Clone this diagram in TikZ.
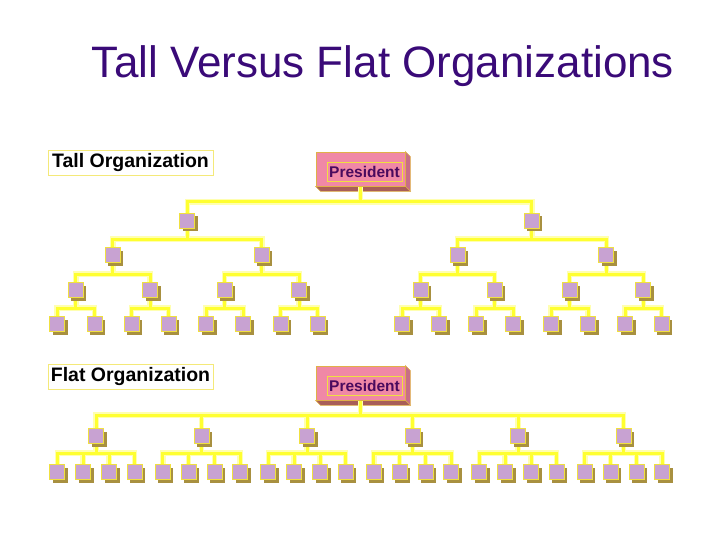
\documentclass[tikz,border=0pt]{standalone}
\usepackage{fontspec}
\setmainfont{Liberation Sans}
\usetikzlibrary{shadows,calc}
\definecolor{titlec}{HTML}{3A0A78}
\definecolor{linec}{HTML}{FFFF30}
\definecolor{glowc}{HTML}{FFFFB0}
\definecolor{boxfill}{HTML}{C8A2D2}
\definecolor{boxedge}{HTML}{F0E040}
\definecolor{shadowc}{HTML}{A89040}
\definecolor{presfill}{HTML}{F088A6}
\definecolor{presright}{HTML}{C86E86}
\definecolor{presbottom}{HTML}{A85E58}
\definecolor{presedge}{HTML}{E0B048}
\definecolor{prestextc}{HTML}{4A0A5E}
\pgfdeclarelayer{bg}
\pgfsetlayers{bg,main}
\tikzset{
  conn/.style={draw=linec, line width=3pt},
  glow/.style={draw=glowc, line width=5.5pt},
  orgbox/.style={draw=boxedge, line width=0.8pt, fill=boxfill, minimum size=15pt, inner sep=0pt,
     general shadow={fill=shadowc, shadow xshift=3pt, shadow yshift=-3pt}},
  presbox/.style={draw=presedge, line width=0.8pt, fill=presfill, minimum width=89pt, minimum height=34pt, inner sep=0pt},
  prestext/.style={draw=boxedge, line width=0.8pt, fill=presfill, minimum width=75pt, minimum height=19pt, inner sep=0pt,
     text=prestextc, font=\bfseries\fontsize{15.5}{18}\selectfont},
  labelbox/.style={draw=boxedge!70!white, line width=0.8pt, fill=white, minimum width=165pt, minimum height=25pt, inner sep=0pt,
     font=\bfseries\fontsize{19.5}{22}\selectfont}
}
\begin{document}
\begin{tikzpicture}[x=1pt,y=-1pt]
\useasboundingbox (0,0) rectangle (720,540);
% title
\node[text=titlec, font=\fontsize{44}{50}\selectfont, anchor=base] (title) at (383,78) {Tall Versus Flat Organizations};
% labels
\node[labelbox] (tallL) at (130.5,162.5) {Tall Organization};
\node[labelbox] (flatL) at (130.5,376.5) {Flat Organization};

% president boxes
\foreach \n/\yy in {p1/169, p2/383}{
  \node[presbox] (\n) at (360.5,\yy) {};
  \begin{pgfonlayer}{bg}
  \fill[presright, draw=presedge, line width=0.6pt] (\n.north east) -- ++(5,5) -- ($(\n.south east)+(5,5)$) -- (\n.south east) -- cycle;
  \fill[presbottom, draw=presedge, line width=0.6pt] (\n.south west) -- (\n.south east) -- ++(5,5) -- ($(\n.south west)+(5,5)$) -- cycle;
  \end{pgfonlayer}
  \node[prestext] (\n t) at (364.5,\yy+2.5) {President};
}

% ---- tall tree ----
\foreach \i/\x in {1/57,2/94.5,3/131.5,4/168.5,5/206,6/243,7/280.5,8/317.5,9/402,10/439,11/476,12/513,13/551,14/588,15/625,16/661.5}{
  \node[orgbox] (t4-\i) at (\x,324) {};
}
\foreach \i in {1,...,8}{
  \pgfmathtruncatemacro{\a}{2*\i-1}\pgfmathtruncatemacro{\b}{2*\i}
  \node[orgbox] (t3-\i) at ($(t4-\a)!0.5!(t4-\b) + (0,-34)$) {};
}
\foreach \i in {1,...,4}{
  \pgfmathtruncatemacro{\a}{2*\i-1}\pgfmathtruncatemacro{\b}{2*\i}
  \node[orgbox] (t2-\i) at ($(t3-\a)!0.5!(t3-\b) + (0,-35)$) {};
}
\foreach \i in {1,2}{
  \pgfmathtruncatemacro{\a}{2*\i-1}\pgfmathtruncatemacro{\b}{2*\i}
  \node[orgbox] (t1-\i) at ($(t2-\a)!0.5!(t2-\b) + (0,-34)$) {};
}
\begin{pgfonlayer}{bg}
\foreach \s in {glow,conn}{
  \draw[\s] (p1.south) -- (p1.south |- 0,202);
  \draw[\s] (t1-1.center) -- (t1-1.center |- 0,202) -| (t1-2.center);
  \foreach \i in {1,...,4}{
    \pgfmathtruncatemacro{\p}{(\i+1)/2}
    \draw[\s] (t1-\p.center) |- (t2-\i.center |- 0,239) -- (t2-\i.center);
  }
  \foreach \i in {1,...,8}{
    \pgfmathtruncatemacro{\p}{(\i+1)/2}
    \draw[\s] (t2-\p.center) |- (t3-\i.center |- 0,274) -- (t3-\i.center);
  }
  \foreach \i in {1,...,16}{
    \pgfmathtruncatemacro{\p}{(\i+1)/2}
    \draw[\s] (t3-\p.center) |- (t4-\i.center |- 0,308) -- (t4-\i.center);
  }
}
\end{pgfonlayer}

% ---- flat tree ----
\foreach \g/\gx in {1/96,2/201.5,3/307,4/412.5,5/518,6/623.5}{
  \node[orgbox] (f1-\g) at (\gx,436) {};
  \foreach \k/\dx in {1/-38.7,2/-13,3/13,4/38.7}{
    \node[orgbox] (f2-\g-\k) at (\gx+\dx,472) {};
  }
}
\begin{pgfonlayer}{bg}
\foreach \s in {glow,conn}{
  \draw[\s] (p2.south) -- (p2.south |- 0,415);
  \draw[\s] (f1-1.center) -- (f1-1.center |- 0,415) -| (f1-6.center);
  \foreach \g in {2,...,5}{
    \draw[\s] (f1-\g.center) -- (f1-\g.center |- 0,415);
  }
  \foreach \g in {1,...,6}{
    \draw[\s] (f1-\g.center) -- (f1-\g.center |- 0,453);
    \draw[\s] (f2-\g-1.center) -- (f2-\g-1.center |- 0,453) -| (f2-\g-4.center);
    \draw[\s] (f2-\g-2.center) -- (f2-\g-2.center |- 0,453);
    \draw[\s] (f2-\g-3.center) -- (f2-\g-3.center |- 0,453);
  }
}
\end{pgfonlayer}
\end{tikzpicture}
\end{document}
